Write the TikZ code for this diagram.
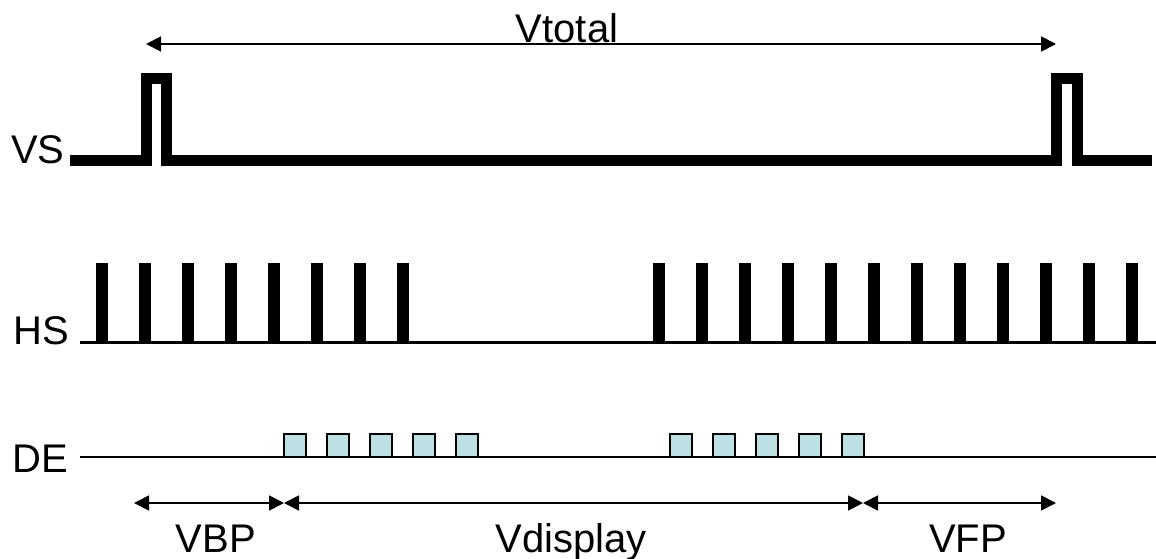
\documentclass[tikz,border=0pt]{standalone}
\usepackage{fontspec}
\setmainfont{Liberation Sans}
\usetikzlibrary{arrows.meta}
\definecolor{decyan}{RGB}{188,224,227}

\begin{document}
\begin{tikzpicture}[x=1pt, y=-1pt,
        sig/.style={font=\fontsize{40}{40}\selectfont, inner sep=0pt},
        span/.style={line width=1.8pt,
            {Triangle[length=15pt,width=15pt]}-{Triangle[length=15pt,width=15pt]}}]

        \useasboundingbox (0,0) rectangle (1156,559);

        % signal names
        \node[sig, anchor=base west] (vs) at (11,163) {VS};
        \node[sig, anchor=base west] (hs) at (13,344) {HS};
        \node[sig, anchor=base west] (de) at (12,472) {DE};

        % VS with two sync pulses
        \draw[line width=11pt] (70,160) -- (146,160) -- (146,79) -- (166,79)
        -- (166,160) -- (1056,160) -- (1056,79) -- (1077,79) -- (1077,160)
        -- (1152,160);

        % HS pulses
        \draw[line width=2.5pt] (80,342.5) -- (1156,342.5);
        \foreach \i in {0,...,7}
            \fill ({96+43*\i},263) rectangle +(12,80);
        \foreach \i in {0,...,11}
            \fill ({653+43*\i},263) rectangle +(12,80);

        % DE lines
        \draw[line width=2pt] (80,457) -- (1156,457);
        \foreach \i in {0,...,4}
            \filldraw[fill=decyan, line width=1.8pt] ({284+43*\i},434) rectangle +(22,23);
        \foreach \i in {0,...,4}
            \filldraw[fill=decyan, line width=1.8pt] ({670+43*\i},434) rectangle +(22,23);

        % #######################################

        \coordinate (t0) at (146,44);
        \coordinate (t1) at (1056,44);
        \draw[span] (t0) -- (t1);
        \node[sig, anchor=base, fill=white, inner xsep=1pt] (vtotal) at (567,43) {Vtotal};

        \coordinate (b0) at (134,503);
        \coordinate (b1) at (284,503);
        \coordinate (b2) at (863,503);
        \coordinate (b3) at (1056,503);
        \draw[span] (b0) -- (b1);
        \draw[span] (b1) -- (b2);
        \draw[span] (b2) -- (b3);

        \node[sig, anchor=base] (vbp) at (216,552) {VBP};
        \node[sig, anchor=base] (vdisp) at (571,552) {Vdisplay};
        \node[sig, anchor=base] (vfp) at (968,552) {VFP};

    \end{tikzpicture}
\end{document}
